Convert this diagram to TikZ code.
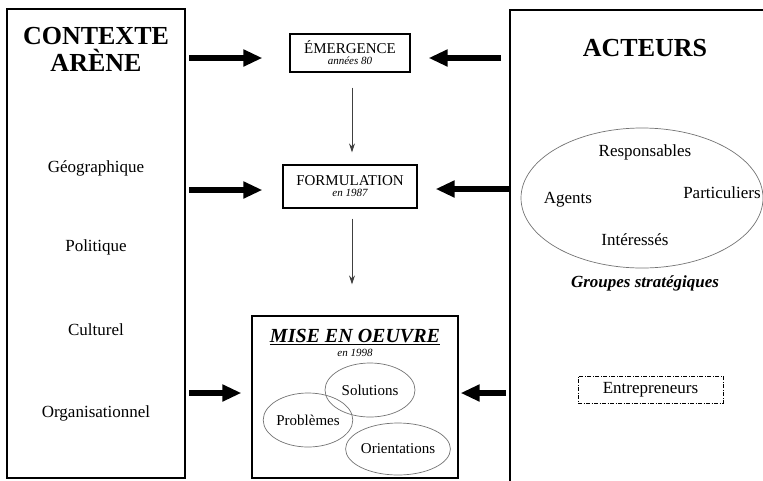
\documentclass[tikz,border=0pt]{standalone}
\usepackage{fontspec}
\setmainfont{Liberation Serif}
\usetikzlibrary{arrows.meta,shapes.geometric}
\begin{document}
\begin{tikzpicture}[x=1pt,y=-1pt,
  bigbox/.style={draw, line width=2pt, inner sep=0pt},
  stagebox/.style={draw, line width=1.2pt, align=center, inner sep=0pt},
  bigarrow/.style={line width=6pt, -{Triangle[length=19pt,width=16pt]}},
  thinarrow/.style={line width=0.8pt, draw=black!75, -{Stealth[length=9pt,width=6pt]}},
  ovalnode/.style={ellipse, draw=black!55, line width=0.7pt, inner sep=0pt},
  item/.style={font=\fontsize{17}{19}\selectfont},
  mid/.style={font=\fontsize{15}{17}\selectfont},
  title/.style={font=\fontsize{26}{27}\selectfont\bfseries, align=center}
]
\useasboundingbox (0,0) rectangle (763,480);

% left box
\node[bigbox, minimum width=178pt, minimum height=469pt] (ctx) at (96,243.5) {};
\node[title] (ctxt) at (96,49) {CONTEXTE\\ARÈNE};
\node[item] (geo) at (96,168) {Géographique};
\node[item] (pol) at (96,247) {Politique};
\node[item] (cul) at (96,330) {Culturel};
\node[item] (org) at (96,413) {Organisationnel};

% right box
\node[bigbox, minimum width=260pt, minimum height=480pt] (act) at (640,250) {};
\node[title] (actt) at (645,48) {ACTEURS};
\node[ovalnode, minimum width=242pt, minimum height=140pt] (grp) at (642,198) {};
\node[item] (resp) at (645,152) {Responsables};
\node[item] (agt) at (568,200) {Agents};
\node[item] (part) at (722,193) {Particuliers};
\node[item] (int) at (635,240) {Intéressés};
\node[font=\fontsize{17}{19}\selectfont\bfseries\itshape] (gs) at (645,283) {Groupes stratégiques};
\node[draw, line width=1pt, dash pattern=on 4pt off 1.5pt on 1pt off 1.5pt,
      minimum width=145pt, minimum height=27pt, inner sep=0pt, item] (ent) at (650.5,389.5) {Entrepreneurs};

% centre boxes
\node[stagebox, minimum width=120pt, minimum height=38pt] (em) at (350,53)
  {{\fontsize{15}{16}\selectfont ÉMERGENCE}\\[-1pt]{\fontsize{11}{12}\selectfont\itshape années 80}};
\node[stagebox, minimum width=134pt, minimum height=43pt] (form) at (350,186.5)
  {{\fontsize{15}{16}\selectfont FORMULATION}\\[-1pt]{\fontsize{11}{12}\selectfont\itshape en 1987}};
\node[draw, line width=1.2pt, minimum width=206pt, minimum height=162pt, inner sep=0pt] (mise) at (355,397) {};
\node[font=\fontsize{20}{22}\selectfont\bfseries\itshape] (miset) at (355,337) {\underline{MISE EN OEUVRE}};
\node[font=\fontsize{11}{12}\selectfont\itshape] (misey) at (355,353) {en 1998};
\node[ovalnode, minimum width=90pt, minimum height=54pt, mid] (sol) at (370,390) {Solutions};
\node[ovalnode, minimum width=88pt, minimum height=54pt, mid] (pb) at (308,420) {Problèmes};
\node[ovalnode, minimum width=78pt, minimum height=52pt, mid] (ori) at (398,449) {Orientations};

% thick arrows
\draw[bigarrow, shorten <=3pt, shorten >=27pt] (ctx.east |- 0,58) -- ([yshift=-5pt]em.west);
\draw[bigarrow, shorten <=8pt, shorten >=18pt] (act.west |- 0,58) -- ([yshift=-5pt]em.east);
\draw[bigarrow, shorten <=3pt, shorten >=20pt] (ctx.east |- 0,190) -- ([yshift=-3.5pt]form.west);
\draw[bigarrow, shorten <=0pt, shorten >=18pt] (act.west |- 0,189) -- ([yshift=-2.5pt]form.east);
\draw[bigarrow, shorten <=3pt, shorten >=10pt] (ctx.east |- 0,393) -- ([yshift=4pt]mise.west);
\draw[bigarrow, shorten <=3pt, shorten >=2pt] (act.west |- 0,393) -- ([yshift=4pt]mise.east);

% thin arrows
\draw[thinarrow, shorten <=15pt, shorten >=12pt] ([xshift=2pt]em.south) -- ([xshift=2pt]form.north);
\draw[thinarrow, shorten <=10pt, shorten >=31pt] ([xshift=2pt]form.south) -- ([xshift=2pt]form.south |- mise.north);
\end{tikzpicture}
\end{document}
